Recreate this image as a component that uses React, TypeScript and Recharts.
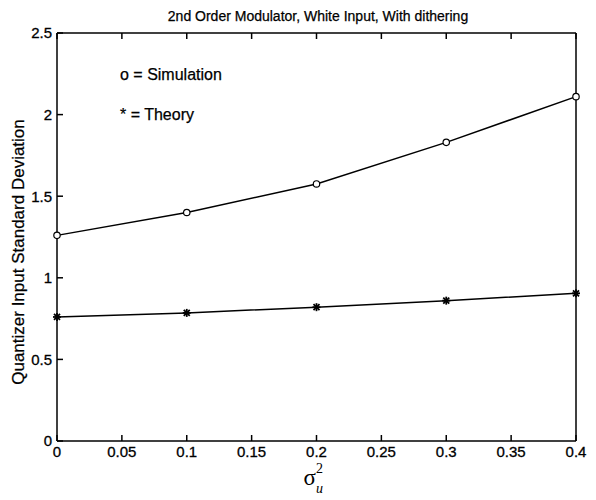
import { Line, LineChart, XAxis, YAxis } from "recharts";

// noise variance on the x axis, one run per value
const sigmaU2 = [0, 0.1, 0.2, 0.3, 0.4];
const simulation = [1.26, 1.4, 1.575, 1.83, 2.11];
const theory = [0.76, 0.785, 0.82, 0.86, 0.905];

const xTicks = [0, 0.05, 0.1, 0.15, 0.2, 0.25, 0.3, 0.35, 0.4];
const yTicks = [0, 0.5, 1, 1.5, 2, 2.5];

const data = sigmaU2.map((x, i) => ({
  x,
  simulation: simulation[i],
  theory: theory[i],
}));

const sans = "'Liberation Sans', Arial, Helvetica, sans-serif";
const serif = "'Liberation Serif', 'Times New Roman', serif";
const tickStyle = {
  fill: "#000",
  stroke: "#000",
  strokeWidth: 0.3,
  fontSize: 15,
  fontFamily: sans,
};

// mirror axes only carry tick marks, no labels
const NoLabel = () => <g />;

function OpenCircle(props: any) {
  const { cx, cy } = props;
  if (cx == null || cy == null) return null;
  return <circle cx={cx} cy={cy} r={3.2} fill="#fff" stroke="#000" strokeWidth={1.2} />;
}

function Star(props: any) {
  const { cx, cy } = props;
  if (cx == null || cy == null) return null;
  const s = 4;
  return (
    <g stroke="#000" strokeWidth={1.8}>
      <line x1={cx - s} y1={cy} x2={cx + s} y2={cy} />
      <line x1={cx} y1={cy - s} x2={cx} y2={cy + s} />
      <line x1={cx - s * 0.75} y1={cy - s * 0.75} x2={cx + s * 0.75} y2={cy + s * 0.75} />
      <line x1={cx - s * 0.75} y1={cy + s * 0.75} x2={cx + s * 0.75} y2={cy - s * 0.75} />
    </g>
  );
}

function SigmaLabel(props: any) {
  const vb = props.viewBox || {};
  const cx = vb.x + vb.width / 2;
  const base = vb.y + 44;
  return (
    <text x={cx - 13} y={base} fill="#000" fontFamily={serif}>
      <tspan fontSize={23}>σ</tspan>
      <tspan fontSize={14} dy={-12}>2</tspan>
      <tspan fontSize={14} fontStyle="italic" dx={-7} dy={20}>u</tspan>
    </text>
  );
}

const textProps = {
  fontFamily: sans,
  fill: "#000",
  stroke: "#000",
  strokeWidth: 0.25,
};

export default function App() {
  return (
    <div style={{ position: "absolute", left: 0, top: 0, background: "#fff" }}>
      <LineChart
        width={596}
        height={500}
        data={data}
        margin={{ top: 32, right: 19, bottom: 0, left: 0 }}
      >
        <XAxis
          xAxisId="bottom"
          type="number"
          dataKey="x"
          domain={[0, 0.4]}
          ticks={xTicks}
          interval={0}
          height={59}
          tickSize={-6}
          tickMargin={11}
          tick={tickStyle}
          stroke="#000"
          strokeWidth={1.5}
          label={{ content: SigmaLabel }}
        />
        <XAxis
          xAxisId="top"
          orientation="top"
          type="number"
          dataKey="x"
          domain={[0, 0.4]}
          ticks={xTicks}
          interval={0}
          height={1}
          tickSize={-6}
          tick={NoLabel}
          stroke="#000"
          strokeWidth={1.5}
        />
        <YAxis
          yAxisId="left"
          type="number"
          domain={[0, 2.5]}
          ticks={yTicks}
          interval={0}
          width={57}
          tickSize={-6}
          tickMargin={11}
          tick={tickStyle}
          stroke="#000"
          strokeWidth={1.5}
        />
        <YAxis
          yAxisId="right"
          orientation="right"
          type="number"
          domain={[0, 2.5]}
          ticks={yTicks}
          interval={0}
          width={1}
          tickSize={-6}
          tick={NoLabel}
          stroke="#000"
          strokeWidth={1.5}
        />
        <Line
          xAxisId="bottom"
          yAxisId="left"
          type="linear"
          dataKey="simulation"
          stroke="#000"
          strokeWidth={1.5}
          dot={<OpenCircle />}
          isAnimationActive={false}
        />
        <Line
          xAxisId="bottom"
          yAxisId="left"
          type="linear"
          dataKey="theory"
          stroke="#000"
          strokeWidth={1.5}
          dot={<Star />}
          isAnimationActive={false}
        />
        <text x={318} y={21} textAnchor="middle" fontSize={14} {...textProps}>
          2nd Order Modulator, White Input, With dithering
        </text>
        <text
          x={24}
          y={252}
          textAnchor="middle"
          fontSize={17}
          transform="rotate(-90 24 252)"
          {...textProps}
        >
          Quantizer Input Standard Deviation
        </text>
        <text x={120} y={80} fontSize={16} {...textProps}>
          o = Simulation
        </text>
        <text x={120} y={120} fontSize={16} {...textProps}>
          * = Theory
        </text>
      </LineChart>
    </div>
  );
}
